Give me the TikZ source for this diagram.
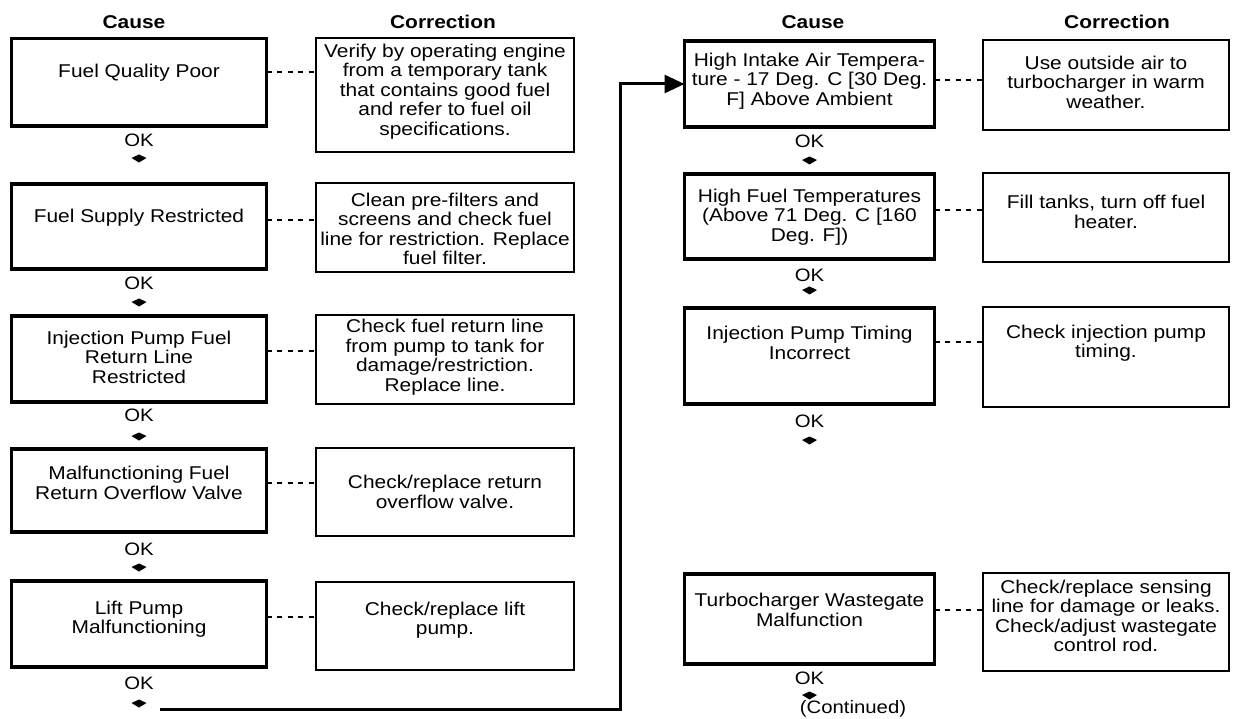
\documentclass[tikz,border=0pt]{standalone}
\usepackage{fontspec}
\setmainfont{Liberation Sans}[FakeStretch=1.13]
\usetikzlibrary{arrows.meta,calc}
\begin{document}
\begin{tikzpicture}[x=1pt,y=-1pt,
  causebox/.style={draw, line width=3.6pt, inner sep=0pt, outer sep=0pt},
  corrbox/.style={draw, line width=1.7pt, inner sep=0pt, outer sep=0pt},
  txt/.style={align=center, inner sep=0pt, font=\fontsize{18.5}{19.5}\selectfont},
  hdr/.style={inner sep=0pt, font=\fontsize{18.5}{20}\selectfont\bfseries},
  oklbl/.style={inner sep=0pt, font=\fontsize{18}{19}\selectfont},
  dashcon/.style={line width=1.6pt, dash pattern=on 5pt off 5.5pt},
  flow/.style={line width=3pt, -{Triangle[length=20pt,width=18pt]}},
  okmark/.pic={\fill (-7.5,0) -- (0,-3.5) -- (7.5,0) -- (0,4.5) -- cycle;}
]
\useasboundingbox (0,0) rectangle (1234,719);

% headers
\node[hdr] (hc1) at (134,22) {Cause};
\node[hdr] (hk1) at (443,22) {Correction};
\node[hdr] (hc2) at (813,22) {Cause};
\node[hdr] (hk2) at (1117,22) {Correction};

% ---------- left column ----------
\node[causebox, minimum width=255pt, minimum height=87.5pt] (b1) at (139,82.25) {};
\node[txt] (b1t) at (139,73) {Fuel Quality Poor};
\node[corrbox, minimum width=258pt, minimum height=114pt] (c1) at (445,95) {};
\node[txt] (c1t) at (445,91.5) {Verify by operating engine\\from a temporary tank\\that contains good fuel\\and refer to fuel oil\\specifications.};

\node[causebox, minimum width=255pt, minimum height=85pt] (b2) at (139,226.5) {};
\node[txt] (b2t) at (139,218) {Fuel Supply Restricted};
\node[corrbox, minimum width=258pt, minimum height=89pt] (c2) at (445,227.5) {};
\node[txt] (c2t) at (445,229) {Clean pre-filters and\\screens and check fuel\\line for restriction. Replace\\fuel filter.};

\node[causebox, minimum width=255pt, minimum height=86pt] (b3) at (139,359) {};
\node[txt] (b3t) at (139,357) {Injection Pump Fuel\\Return Line\\Restricted};
\node[corrbox, minimum width=258pt, minimum height=89pt] (c3) at (445,359.5) {};
\node[txt] (c3t) at (445,357) {Check fuel return line\\from pump to tank for\\damage/restriction.\\Replace line.};

\node[causebox, minimum width=255pt, minimum height=83pt] (b4) at (139,490.5) {};
\node[txt] (b4t) at (139,483) {Malfunctioning Fuel\\Return Overflow Valve};
\node[corrbox, minimum width=258pt, minimum height=88pt] (c4) at (445,492) {};
\node[txt] (c4t) at (445,492) {Check/replace return\\overflow valve.};

\node[causebox, minimum width=255pt, minimum height=86pt] (b5) at (139,624) {};
\node[txt] (b5t) at (139,619) {Lift Pump\\Malfunctioning};
\node[corrbox, minimum width=258pt, minimum height=88pt] (c5) at (445,626) {};
\node[txt] (c5t) at (445,620) {Check/replace lift\\pump.};

% OK labels left
\node[oklbl] (ok1) at (139,140) {OK};
\node[oklbl] (ok2) at (139,283) {OK};
\node[oklbl] (ok3) at (139,415) {OK};
\node[oklbl] (ok4) at (139,549) {OK};
\node[oklbl] (ok5) at (139,683) {OK};
\pic at (139,158) {okmark};
\pic at (139,302) {okmark};
\pic at (139,436) {okmark};
\pic at (139,567) {okmark};
\pic at (139,703) {okmark};

% dashed connectors left
\coordinate (dl1) at (0,72);
\coordinate (dl2) at (0,220);
\coordinate (dl3) at (0,351);
\coordinate (dl4) at (0,483);
\coordinate (dl5) at (0,617);
\draw[dashcon] (b1.east |- dl1) -- (c1.west |- dl1);
\draw[dashcon] (b2.east |- dl2) -- (c2.west |- dl2);
\draw[dashcon] (b3.east |- dl3) -- (c3.west |- dl3);
\draw[dashcon] (b4.east |- dl4) -- (c4.west |- dl4);
\draw[dashcon] (b5.east |- dl5) -- (c5.west |- dl5);

% ---------- right column ----------
\node[causebox, minimum width=250pt, minimum height=86pt] (rb1) at (809.5,84) {};
\node[txt] (rb1t) at (809.5,81) {High Intake Air Tempera-\\ture - 17 Deg. C [30 Deg.\\F] Above Ambient};
\node[corrbox, minimum width=245.5pt, minimum height=90pt] (rc1) at (1106,85) {};
\node[txt] (rc1t) at (1106,82) {Use outside air to\\turbocharger in warm\\weather.};

\node[causebox, minimum width=250pt, minimum height=85pt] (rb2) at (809.5,216.5) {};
\node[txt] (rb2t) at (809.5,217) {High Fuel Temperatures\\(Above 71 Deg. C [160\\Deg. F])};
\node[corrbox, minimum width=245.5pt, minimum height=89pt] (rc2) at (1106,217.5) {};
\node[txt] (rc2t) at (1106,212) {Fill tanks, turn off fuel\\heater.};

\node[causebox, minimum width=250pt, minimum height=96pt] (rb3) at (809.5,356) {};
\node[txt] (rb3t) at (809.5,343) {Injection Pump Timing\\Incorrect};
\node[corrbox, minimum width=245.5pt, minimum height=100pt] (rc3) at (1106,357) {};
\node[txt] (rc3t) at (1106,343) {Check injection pump\\timing.};

\node[causebox, minimum width=250pt, minimum height=90pt] (rb4) at (809.5,619) {};
\node[txt] (rb4t) at (809.5,610) {Turbocharger Wastegate\\Malfunction};
\node[corrbox, minimum width=245.5pt, minimum height=98pt] (rc4) at (1106,622) {};
\node[txt] (rc4t) at (1106,616) {Check/replace sensing\\line for damage or leaks.\\Check/adjust wastegate\\control rod.};

% OK labels right
\node[oklbl] (rok1) at (809.5,141) {OK};
\node[oklbl] (rok2) at (809.5,275) {OK};
\node[oklbl] (rok3) at (809.5,421) {OK};
\node[oklbl] (rok4) at (809.5,678) {OK};
\pic at (809.5,160) {okmark};
\pic at (809.5,290) {okmark};
\pic at (809.5,440) {okmark};
\pic at (809.5,695) {okmark};
\node[oklbl] (cont) at (853,709) {(Continued)};

% dashed connectors right
\coordinate (dr1) at (0,80);
\coordinate (dr2) at (0,210);
\coordinate (dr3) at (0,342);
\coordinate (dr4) at (0,610);
\draw[dashcon] (rb1.east |- dr1) -- (rc1.west |- dr1);
\draw[dashcon] (rb2.east |- dr2) -- (rc2.west |- dr2);
\draw[dashcon] (rb3.east |- dr3) -- (rc3.west |- dr3);
\draw[dashcon] (rb4.east |- dr4) -- (rc4.west |- dr4);

% long flow connector
\coordinate (fstart) at (160,709);
\coordinate (fcorner) at (620,709);
\draw[flow] (fstart) -- (fcorner) |- (rb1.west);
\end{tikzpicture}
\end{document}
